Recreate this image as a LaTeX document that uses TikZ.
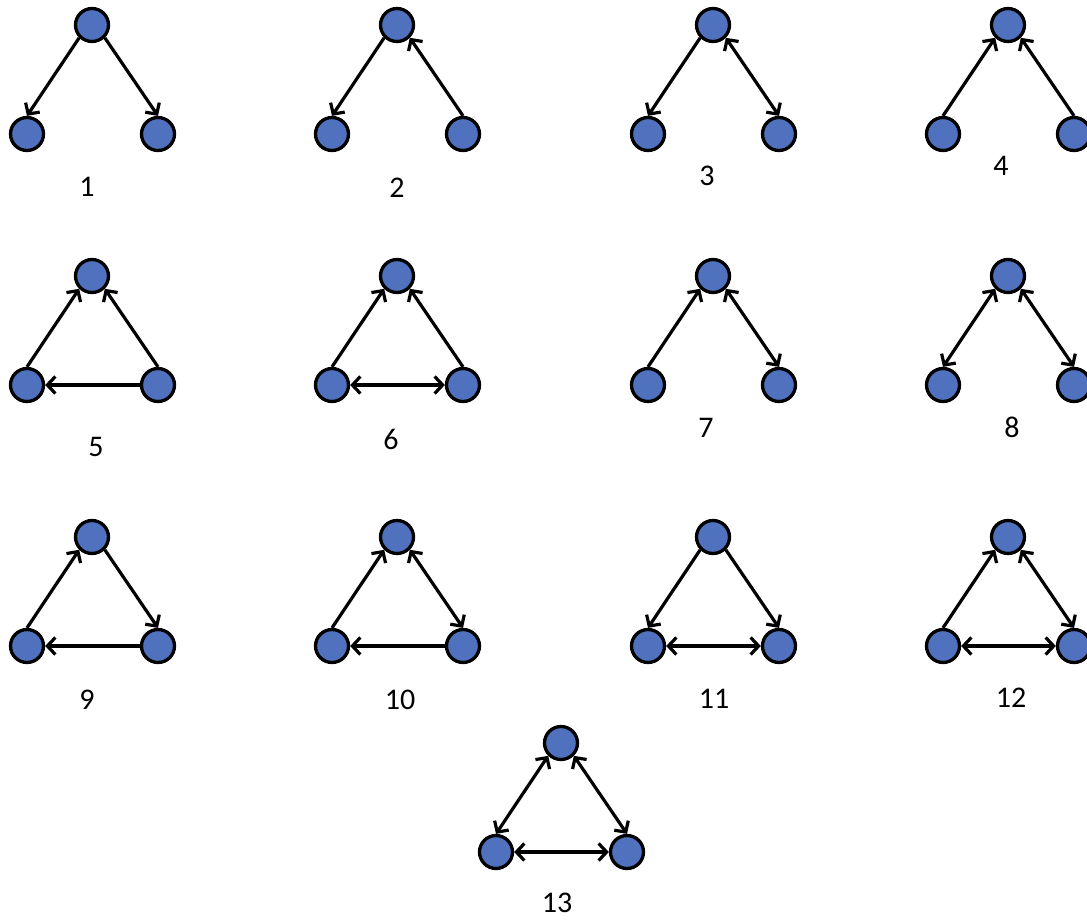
\documentclass[tikz,border=0pt]{standalone}
\usepackage{fontspec}
\setmainfont{Carlito}
\usetikzlibrary{arrows.meta}
\definecolor{nodeblue}{RGB}{80,114,190}
\newcommand\mktriad[6]{%
  \node[vert] (t#1) at (#2,#3) {};
  \node[vert] (l#1) at ({#2-65},{#3+109}) {};
  \node[vert] (r#1) at ({#2+66},{#3+109}) {};
  \node[lab] (n#1) at (#5,#6) {#4};
}
\begin{document}
\begin{tikzpicture}[x=1pt,y=-1pt,
  vert/.style={circle,draw=black,fill=nodeblue,line width=3.3pt,minimum size=33pt,inner sep=0pt},
  lab/.style={font=\fontsize{30}{34}\selectfont,inner sep=0pt},
  edge/.style={draw=black,line width=3.2pt},
  >={Straight Barb[length=8pt,width=17pt]}]
\clip (0,0) rectangle (1087,921);
\fill[white] (0,0) rectangle (1087,921);
% row 1
\mktriad{1}{92}{25}{1}{87}{187}
\mktriad{2}{397}{25}{2}{397}{188}
\mktriad{3}{713}{25}{3}{707}{176}
\mktriad{4}{1008}{25}{4}{1001}{166}
% row 2
\mktriad{5}{92}{276}{5}{96}{447}
\mktriad{6}{397}{276}{6}{391}{439}
\mktriad{7}{713}{276}{7}{706}{428}
\mktriad{8}{1008}{276}{8}{1012}{427}
% row 3
\mktriad{9}{92}{537}{9}{87}{700}
\mktriad{10}{397}{537}{10}{400}{700}
\mktriad{11}{713}{537}{11}{714}{699}
\mktriad{12}{1008}{537}{12}{1011}{698}
% row 4
\mktriad{13}{561}{743}{13}{557}{903}
% edges
\draw[edge,->] (t1.south west) -- (l1.north);
\draw[edge,->] (t1.south east) -- (r1.north);
\draw[edge,->] (t2.south west) -- (l2.north);
\draw[edge,<-] (t2.south east) -- (r2.north);
\draw[edge,->] (t3.south west) -- (l3.north);
\draw[edge,<->] (t3.south east) -- (r3.north);
\draw[edge,<-] (t4.south west) -- (l4.north);
\draw[edge,<-] (t4.south east) -- (r4.north);
\draw[edge,<-] (t5.south west) -- (l5.north);
\draw[edge,<-] (t5.south east) -- (r5.north);
\draw[edge,<-] (l5.east) -- (r5.west);
\draw[edge,<-] (t6.south west) -- (l6.north);
\draw[edge,<-] (t6.south east) -- (r6.north);
\draw[edge,<->] (l6.east) -- (r6.west);
\draw[edge,<-] (t7.south west) -- (l7.north);
\draw[edge,<->] (t7.south east) -- (r7.north);
\draw[edge,<->] (t8.south west) -- (l8.north);
\draw[edge,<->] (t8.south east) -- (r8.north);
\draw[edge,<-] (t9.south west) -- (l9.north);
\draw[edge,->] (t9.south east) -- (r9.north);
\draw[edge,<-] (l9.east) -- (r9.west);
\draw[edge,<-] (t10.south west) -- (l10.north);
\draw[edge,<->] (t10.south east) -- (r10.north);
\draw[edge,<-] (l10.east) -- (r10.west);
\draw[edge,->] (t11.south west) -- (l11.north);
\draw[edge,->] (t11.south east) -- (r11.north);
\draw[edge,<->] (l11.east) -- (r11.west);
\draw[edge,<-] (t12.south west) -- (l12.north);
\draw[edge,<->] (t12.south east) -- (r12.north);
\draw[edge,<->] (l12.east) -- (r12.west);
\draw[edge,<->] (t13.south west) -- (l13.north);
\draw[edge,<->] (t13.south east) -- (r13.north);
\draw[edge,<->] (l13.east) -- (r13.west);
\end{tikzpicture}
\end{document}
